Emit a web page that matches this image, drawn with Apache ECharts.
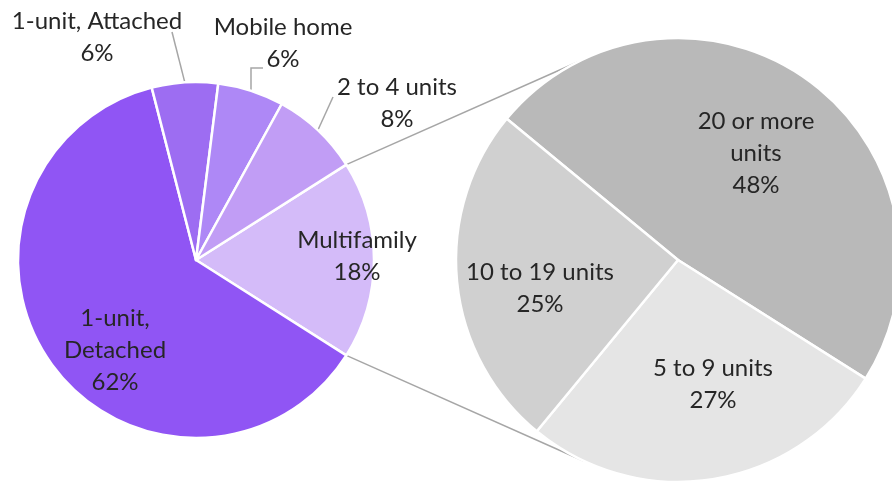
<!DOCTYPE html>
<html>
<head>
<meta charset="utf-8">
<script src="https://cdn.jsdelivr.net/npm/echarts@6/dist/echarts.min.js"></script>
<style>
  html, body { margin: 0; padding: 0; background: #fff; }
  #chart { width: 892px; height: 483px; }
</style>
</head>
<body>
<div id="chart"></div>
<script>
// main pie (all housing types), clockwise from the split-off slice
var mainNames = ['Multifamily', '1-unit,\nDetached', '1-unit, Attached', 'Mobile home', '2 to 4 units'];
var mainValues = [18, 62, 6, 6, 8];

// breakdown of Multifamily
var subNames = ['20 or more\nunits', '5 to 9 units', '10 to 19 units'];
var subValues = [48, 27, 25];

var mainColors = ['#D4BBF9', '#9055F4', '#9D6DF2', '#AE88F6', '#C19DF5'];
var subColors = ['#B9B9B9', '#E5E5E5', '#D0D0D0'];

var mainCenter = [196, 260], mainRadius = 178;
var subCenter = [678, 260], subRadius = 222;
var subStart = 140.5;

// where Excel put the labels (block centres) and the leader line bends
var mainLabelPos = [[357, 256], [115, 350], [97, 37], [283, 43], [397, 103]];
var mainLeader = [null, null, [[172, 32], [172, 32]], [[251, 68], [263, 68]], [[333, 97], [333, 97]]];
var subLabelPos = [[756, 153], [713, 384], [540, 288]];

var textStyle = {
  fontFamily: 'Lato',
  fontSize: 24,
  color: '#262626',
  lineHeight: 32
};

function total(arr) {
  var s = 0;
  for (var i = 0; i < arr.length; i++) s += arr[i];
  return s;
}

var mainStart = mainValues[0] / total(mainValues) * 360 / 2;

function buildData(names, values, colors, outside) {
  var data = [];
  for (var i = 0; i < values.length; i++) {
    var isOut = outside && outside[i];
    data.push({
      name: names[i],
      value: values[i],
      itemStyle: { color: colors[i] },
      label: { position: isOut ? 'outside' : 'inside' },
      labelLine: { show: !!isOut }
    });
  }
  return data;
}

function edgePoint(center, r, deg) {
  var a = deg * Math.PI / 180;
  return [center[0] + r * Math.cos(a), center[1] - r * Math.sin(a)];
}

function labelFmt(p) {
  return p.name + '\n' + Math.round(p.percent) + '%';
}

var connectTop = [edgePoint(mainCenter, mainRadius, mainStart), edgePoint(subCenter, subRadius, 117)];
var connectBottom = [edgePoint(mainCenter, mainRadius, -mainStart), edgePoint(subCenter, subRadius, -115)];

var chart = echarts.init(document.getElementById('chart'));
chart.setOption({
  animation: false,
  backgroundColor: '#fff',
  graphic: [
    {
      type: 'line', z: 0,
      shape: { x1: connectTop[0][0], y1: connectTop[0][1], x2: connectTop[1][0], y2: connectTop[1][1] },
      style: { stroke: '#A6A6A6', lineWidth: 1.5 }
    },
    {
      type: 'line', z: 0,
      shape: { x1: connectBottom[0][0], y1: connectBottom[0][1], x2: connectBottom[1][0], y2: connectBottom[1][1] },
      style: { stroke: '#A6A6A6', lineWidth: 1.5 }
    }
  ],
  series: [
    {
      type: 'pie',
      center: mainCenter,
      radius: mainRadius,
      startAngle: mainStart,
      clockwise: true,
      avoidLabelOverlap: false,
      emphasis: { disabled: true },
      itemStyle: { borderColor: '#fff', borderWidth: 2.5 },
      label: Object.assign({ formatter: labelFmt }, textStyle),
      labelLine: { lineStyle: { color: '#A6A6A6', width: 1.5 } },
      labelLayout: function (p) {
        var pos = mainLabelPos[p.dataIndex];
        var out = { x: pos[0], y: pos[1], align: 'center', verticalAlign: 'middle' };
        var bend = mainLeader[p.dataIndex];
        if (bend && p.labelLinePoints) {
          out.labelLinePoints = [p.labelLinePoints[0], bend[0], bend[1]];
        }
        return out;
      },
      data: buildData(mainNames, mainValues, mainColors, [false, false, true, true, true])
    },
    {
      type: 'pie',
      center: subCenter,
      radius: subRadius,
      startAngle: subStart,
      clockwise: true,
      avoidLabelOverlap: false,
      emphasis: { disabled: true },
      itemStyle: { borderColor: '#fff', borderWidth: 2.5 },
      label: Object.assign({ formatter: labelFmt }, textStyle),
      labelLayout: function (p) {
        var pos = subLabelPos[p.dataIndex];
        return { x: pos[0], y: pos[1], align: 'center', verticalAlign: 'middle' };
      },
      data: buildData(subNames, subValues, subColors, null)
    }
  ]
});
</script>
</body>
</html>
